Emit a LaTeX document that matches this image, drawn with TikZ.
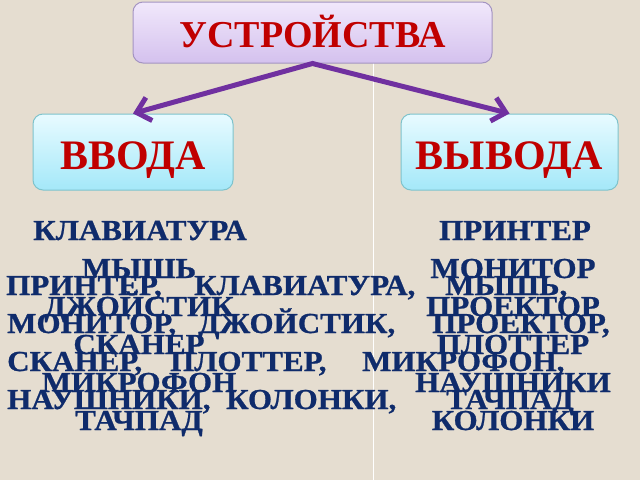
\documentclass[tikz,border=0pt]{standalone}
\usepackage{fontspec}
\setmainfont{Liberation Serif}
\newfontfamily\bodyfont[FakeStretch=1.07,FakeBold=0.8]{Liberation Serif Bold}
\usetikzlibrary{arrows.meta}
\definecolor{bgcol}{HTML}{E5DDD0}
\definecolor{headred}{HTML}{C00000}
\definecolor{navy}{HTML}{0F2B6B}
\definecolor{arrowpurple}{HTML}{7030A0}
\definecolor{lavtop}{HTML}{F1E8FB}
\definecolor{lavbot}{HTML}{D4C1EE}
\definecolor{lavdraw}{HTML}{A494C2}
\definecolor{cyantop}{HTML}{E8FBFF}
\definecolor{cyanbot}{HTML}{A4E8F9}
\definecolor{cyandraw}{HTML}{7EC3CC}
\tikzset{
  headbox/.style={rounded corners=10pt, line width=1pt, inner sep=0pt,
    text=headred, font=\bfseries\fontsize{42}{42}\selectfont,
    text depth=0pt},
  topbox/.style={headbox, draw=lavdraw, top color=lavtop, bottom color=lavbot,
    font=\bfseries\fontsize{38}{38}\selectfont},
  subbox/.style={headbox, draw=cyandraw, top color=cyantop, bottom color=cyanbot},
  coltext/.style={anchor=base, inner sep=0pt, text=navy,
    font=\bodyfont\fontsize{29}{29}\selectfont},
  partext/.style={coltext, anchor=base west},
  link/.style={draw=arrowpurple, line width=5pt, line join=miter,
    {Straight Barb[length=13pt,width=24pt]}-{Straight Barb[length=13pt,width=24pt]}}
}
\begin{document}
\begin{tikzpicture}[x=1pt,y=-1pt]
\fill[bgcol] (0,0) rectangle (640,480);
\useasboundingbox (0,0) rectangle (640,480);
\draw[white, line width=1pt] (373,63) -- (373,480);
% boxes
\node[topbox, minimum width=359pt, minimum height=61pt, text height=29pt] (top) at (312.5,32.5) {УСТРОЙСТВА};
\node[subbox, minimum width=200pt, minimum height=76pt, text height=34pt] (vvod) at (133,152) {ВВОДА};
\node[subbox, minimum width=217pt, minimum height=76pt, text height=34pt] (vyvod) at (509.5,152) {ВЫВОДА};
\draw[link] (vvod.north) -- (top.south) -- (vyvod.north);
% left column
\node[coltext] (l1) at (140,240) {КЛАВИАТУРА};
\node[coltext] (l2) at (139,278) {МЫШЬ};
\node[coltext] (l3) at (139,316) {ДЖОЙСТИК};
\node[coltext] (l4) at (139,354) {СКАНЕР};
\node[coltext] (l5) at (139,392) {МИКРОФОН};
\node[coltext] (l6) at (139,430) {ТАЧПАД};
% right column
\node[coltext] (r1) at (515,240) {ПРИНТЕР};
\node[coltext] (r2) at (513,278) {МОНИТОР};
\node[coltext] (r3) at (513,316) {ПРОЕКТОР};
\node[coltext] (r4) at (513,354) {ПЛОТТЕР};
\node[coltext] (r5) at (513,392) {НАУШНИКИ};
\node[coltext] (r6) at (513,430) {КОЛОНКИ};
% overlaid paragraph
\node[partext] (p11) at (6,295) {ПРИНТЕР,};
\node[partext] (p12) at (194,295) {КЛАВИАТУРА,};
\node[partext] (p13) at (445,295) {МЫШЬ,};
\node[partext] (p21) at (7,333) {МОНИТОР,};
\node[partext] (p22) at (198,333) {ДЖОЙСТИК,};
\node[partext] (p23) at (432,333) {ПРОЕКТОР,};
\node[partext] (p31) at (7,371) {СКАНЕР,};
\node[partext] (p32) at (170,371) {ПЛОТТЕР,};
\node[partext] (p33) at (362,371) {МИКРОФОН,};
\node[partext] (p41) at (7,409) {НАУШНИКИ,};
\node[partext] (p42) at (226,409) {КОЛОНКИ,};
\node[partext] (p43) at (446,409) {ТАЧПАД};
\end{tikzpicture}
\end{document}
